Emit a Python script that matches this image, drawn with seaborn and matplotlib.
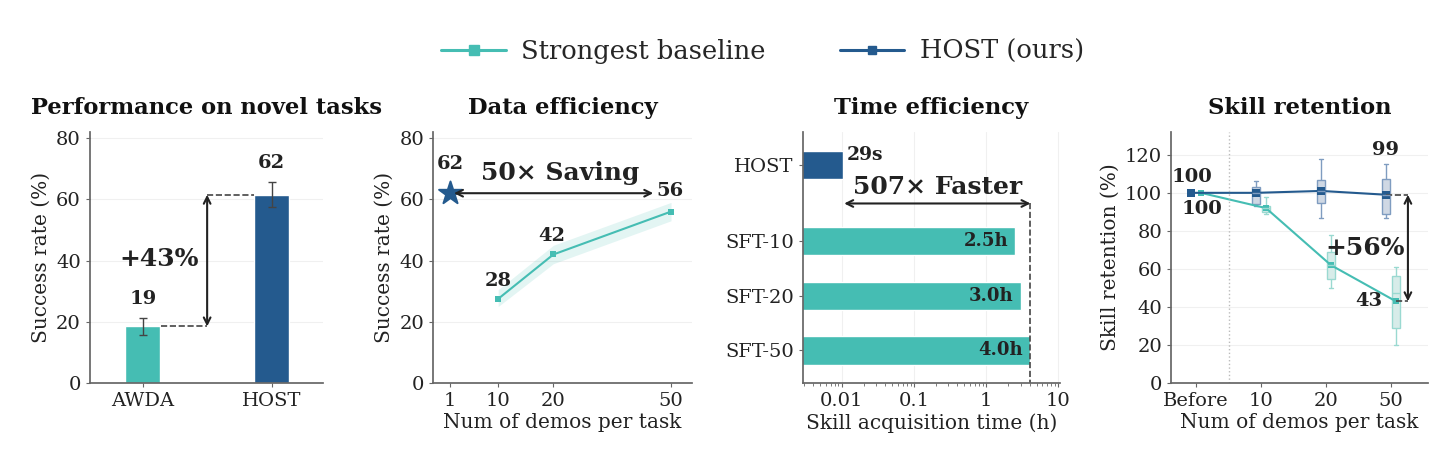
import numpy as np
import pandas as pd
import matplotlib
matplotlib.use("Agg")
import matplotlib.pyplot as plt
from matplotlib.lines import Line2D
import seaborn as sns

# Estilo geral
sns.set_theme(style="ticks")
plt.rcParams["font.family"] = ["DejaVu Serif"]
plt.rcParams["axes.edgecolor"] = "#666666"
plt.rcParams["xtick.color"] = "#666666"
plt.rcParams["ytick.color"] = "#666666"
plt.rcParams["xtick.labelcolor"] = "#222222"
plt.rcParams["ytick.labelcolor"] = "#222222"
plt.rcParams["axes.labelcolor"] = "#222222"

TEAL = "#45BDB3"
NAVY = "#245A8E"
DARK = "#222222"

# ===========================
# DADOS
# ===========================
novel_methods = ["AWDA", "HOST"]
novel_success = [18.5, 61.5]
novel_err = [2.8, 4.0]
novel_labels = ["19", "62"]

demo_labels = ["1", "10", "20", "50"]
baseline_success = [27.5, 42.0, 56.0]
baseline_low = [25.0, 39.0, 53.0]
baseline_high = [30.5, 45.0, 59.0]
host_success = 62.0

time_methods = ["HOST", "SFT-10", "SFT-20", "SFT-50"]
time_hours = [0.0105, 2.5, 3.0, 4.0]
time_labels = ["29s", "2.5h", "3.0h", "4.0h"]

retention_steps = ["Before", "10", "20", "50"]
host_retention = [100, 100, 101, 99]
baseline_retention = [100, 92, 62, 43]
# caixas: min, q1, mediana, q3, max
host_box_10 = [93, 94, 100, 103, 106]
host_box_20 = [87, 94.5, 101, 107, 118]
host_box_50 = [87, 89, 99, 107.5, 115]
base_box_10 = [89, 90, 92, 93, 98]
base_box_20 = [50, 54.5, 62, 69, 78]
base_box_50 = [20, 29, 47.5, 56.5, 61]

# ===========================
# FIGURA
# ===========================
fig = plt.figure(figsize=(14.39, 4.55), dpi=100)
bottom, height = 0.158, 0.552
ax1 = fig.add_axes([0.0625, bottom, 0.162, height])
ax2 = fig.add_axes([0.301, bottom, 0.180, height])
ax3 = fig.add_axes([0.558, bottom, 0.1786, height])
ax4 = fig.add_axes([0.8138, bottom, 0.1786, height])

title_kw = dict(fontsize=16.3, fontweight="bold", color="#111111", pad=13)
lab_kw = dict(fontsize=14, fontweight="bold", color=DARK, ha="center", va="center")
big_kw = dict(fontsize=18, fontweight="bold", color=DARK, ha="center", va="center")
arrow_kw = dict(arrowstyle="<->", color=DARK, lw=1.5, shrinkA=0, shrinkB=0)
axlab = 14.5

for ax in (ax1, ax2, ax3, ax4):
    ax.tick_params(labelsize=14, length=3, width=0.8)
    sns.despine(ax=ax)

# ===========================
# GRÁFICO 1: Performance on novel tasks
# ===========================
sns.barplot(x=novel_methods, y=novel_success, hue=novel_methods, saturation=1,
            palette=[TEAL, NAVY], width=0.27, legend=False, ax=ax1)
ax1.errorbar(range(len(novel_methods)), novel_success, yerr=novel_err,
             fmt="none", ecolor="#444444", elinewidth=1, capsize=3, capthick=1)
ax1.set_xlim(-0.41, 1.4)
ax1.set_ylim(0, 82)
ax1.set_yticks([0, 20, 40, 60, 80])
ax1.yaxis.grid(True, color="#f0f0f0", lw=0.8)
ax1.set_axisbelow(True)
ax1.plot([0.14, 0.5], [novel_success[0]] * 2, ls="--", color="#444444", lw=1.2)
ax1.plot([0.5, 0.86], [novel_success[1]] * 2, ls="--", color="#444444", lw=1.2)
ax1.annotate("", xy=(0.5, novel_success[1]), xytext=(0.5, novel_success[0]), arrowprops=arrow_kw)
ax1.text(0.13, 40.5, "+43%", **big_kw)
ax1.text(0, 27.6, novel_labels[0], **lab_kw)
ax1.text(1, 71.9, novel_labels[1], **lab_kw)
ax1.set_title("Performance on novel tasks", **title_kw)
ax1.set_ylabel("Success rate (%)", fontsize=axlab, labelpad=4)
ax1.set_xlabel("")

# ===========================
# GRÁFICO 2: Data efficiency
# ===========================
demo_pos = [1.0, 2.15, 4.6]
ax2.fill_between(demo_pos, baseline_low, baseline_high, color=TEAL, alpha=0.15, lw=0)
sns.lineplot(x=demo_pos, y=baseline_success, color=TEAL, marker="s", markersize=5,
             markeredgewidth=0, lw=1.5, ax=ax2)
sns.scatterplot(x=[0], y=[host_success], marker="*", s=300, color=NAVY,
                edgecolor=NAVY, ax=ax2)
ax2.set_xticks([0] + demo_pos, labels=demo_labels)
ax2.set_xlim(-0.354, 5.04)
ax2.set_ylim(0, 82)
ax2.set_yticks([0, 20, 40, 60, 80])
ax2.yaxis.grid(True, color="#f0f0f0", lw=0.8)
ax2.set_axisbelow(True)
ax2.annotate("", xy=(4.23, 62), xytext=(0.08, 62), arrowprops=arrow_kw)
ax2.text(2.29, 68.6, "50× Saving", **big_kw)
ax2.text(0, 71.5, "62", **lab_kw)
ax2.text(4.58, 62.7, "56", **lab_kw)
ax2.text(2.12, 48, "42", **lab_kw)
ax2.text(1.0, 33.5, "28", **lab_kw)
ax2.set_title("Data efficiency", **title_kw)
ax2.set_ylabel("Success rate (%)", fontsize=axlab, labelpad=4)
ax2.set_xlabel("Num of demos per task", fontsize=axlab, labelpad=2)

# ===========================
# GRÁFICO 3: Time efficiency
# ===========================
y_pos = [0, 1.4, 2.4, 3.4]
sns.barplot(x=time_hours, y=y_pos, orient="y", native_scale=True, hue=time_methods,
            palette=[NAVY, TEAL, TEAL, TEAL], width=0.52, dodge=False, saturation=1,
            legend=False, ax=ax3)
ax3.set_xscale("log")
ax3.set_xlim(0.0029, 10.5)
ax3.set_ylim(4.0, -0.6)
ax3.set_yticks(y_pos, labels=time_methods)
ax3.set_xticks([0.01, 0.1, 1, 10], labels=["0.01", "0.1", "1", "10"])
ax3.xaxis.grid(True, which="major", color="#f0f0f0", lw=0.8)
ax3.set_axisbelow(True)
ax3.tick_params(axis="x", which="minor", length=2, width=0.6)
ax3.text(0.0118, -0.18, time_labels[0], fontsize=13.5, fontweight="bold", color=DARK,
         ha="left", va="center")
for yv, val, lab in zip(y_pos[1:], time_hours[1:], time_labels[1:]):
    ax3.text(val * 0.8, yv, lab, fontsize=13, fontweight="bold", color=DARK,
             ha="right", va="center")
ax3.annotate("", xy=(4.1, 0.71), xytext=(0.0108, 0.71), arrowprops=arrow_kw)
ax3.plot([4.1, 4.1], [0.71, 4.0], ls="--", color="#444444", lw=1.2)
ax3.text(0.215, 0.40, "507× Faster", **big_kw)
ax3.set_title("Time efficiency", **title_kw)
ax3.set_xlabel("Skill acquisition time (h)", fontsize=axlab, labelpad=2)
ax3.set_ylabel("")

# ===========================
# GRÁFICO 4: Skill retention
# ===========================
box_df = pd.DataFrame({
    "step": ["10"] * 5 + ["20"] * 5 + ["50"] * 5,
    "host": host_box_10 + host_box_20 + host_box_50,
    "base": base_box_10 + base_box_20 + base_box_50,
})
host_df = pd.DataFrame({"step": box_df["step"], "ret": box_df["host"], "method": "HOST"})
base_df = pd.DataFrame({"step": box_df["step"], "ret": box_df["base"], "method": "Baseline"})
box_kw = dict(x="step", y="ret", hue="method", hue_order=["HOST", "Baseline"],
              order=retention_steps, dodge=True, width=0.3, gap=0.2, whis=(0, 100),
              linewidth=1.0, legend=False, ax=ax4)
sns.boxplot(data=host_df, palette=["#cbd8e8", "#cbd8e8"], linecolor="#7f9cc0", **box_kw)
sns.boxplot(data=base_df, palette=["#d3f0ec", "#d3f0ec"], linecolor="#9ad9d1", **box_kw)

steps_x = np.arange(len(retention_steps))
sns.lineplot(x=steps_x + 0.075, y=baseline_retention, color=TEAL, marker="s",
             markersize=5, markeredgewidth=0, lw=1.5, ax=ax4)
sns.lineplot(x=steps_x - 0.075, y=host_retention, color=NAVY, marker="s",
             markersize=6, markeredgewidth=0, lw=1.5, ax=ax4)
ax4.set_xlim(-0.385, 3.57)
ax4.set_ylim(0, 132)
ax4.set_yticks([0, 20, 40, 60, 80, 100, 120])
ax4.set_xticks(steps_x, labels=retention_steps)
ax4.yaxis.grid(True, color="#f0f0f0", lw=0.8)
ax4.set_axisbelow(True)
ax4.axvline(0.5, ls=":", color="#bbbbbb", lw=1)
ax4.plot([2.925, 3.26], [host_retention[3]] * 2, ls="--", color="#444444", lw=1.2)
ax4.plot([3.075, 3.26], [baseline_retention[3]] * 2, ls="--", color="#444444", lw=1.2)
ax4.annotate("", xy=(3.26, host_retention[3]), xytext=(3.26, baseline_retention[3]),
             arrowprops=arrow_kw)
ax4.text(2.6, 71, "+56%", **big_kw)
ax4.text(-0.06, 108.5, "100", **lab_kw)
ax4.text(0.09, 91.3, "100", **lab_kw)
ax4.text(2.91, 122.6, "99", **lab_kw)
ax4.text(2.66, 43.3, "43", **lab_kw)
ax4.set_title("Skill retention", **title_kw)
ax4.set_ylabel("Skill retention (%)", fontsize=axlab, labelpad=4)
ax4.set_xlabel("Num of demos per task", fontsize=axlab, labelpad=2)

# ===========================
# LEGENDA
# ===========================
handles = [
    Line2D([], [], color=TEAL, lw=2.2, marker="s", markersize=7),
    Line2D([], [], color=NAVY, lw=2.2, marker="s", markersize=5.5),
]
fig.legend(handles, ["Strongest baseline", "HOST (ours)"], loc="center",
           bbox_to_anchor=(0.530, 0.886), ncol=2, frameon=False, fontsize=18.5,
           handlelength=2.5, handletextpad=0.6, columnspacing=2.9)

fig.savefig("out.png", dpi=100)
